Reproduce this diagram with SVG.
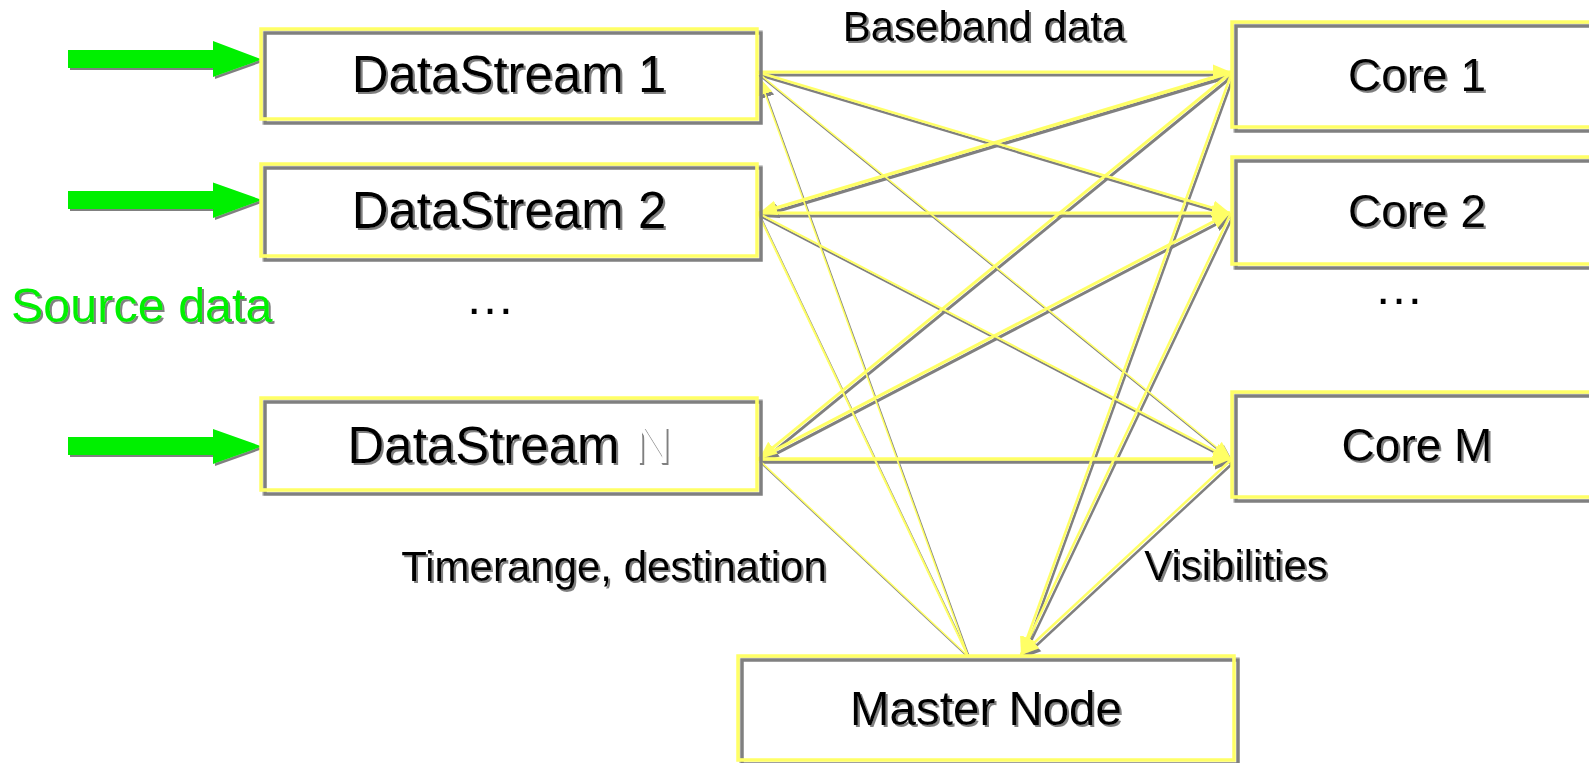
<svg xmlns="http://www.w3.org/2000/svg" width="1589" height="763" viewBox="0 0 1589 763">
<defs>
<style>
.txt{font-family:"Liberation Sans",Arial,Helvetica,sans-serif;fill:#000;}
.box{fill:none;stroke:#ffff66;stroke-width:3.5;}
.bg{fill:#fff;stroke:none;}
.c{fill:none;stroke:#ffff66;}
.w15{stroke-width:1.5;}
.w2{stroke-width:2;}
.w25{stroke-width:2.5;}
.w3{stroke-width:3;}
.w35{stroke-width:3.5;}
.green{fill:#00f000;}
</style>
<filter id="shText" x="-10%" y="-20%" width="130%" height="150%">
<feFlood flood-color="#808080"/>
<feComposite in2="SourceAlpha" operator="in"/>
<feOffset dx="2" dy="2" result="s"/>
<feMerge><feMergeNode in="s"/><feMergeNode in="SourceGraphic"/></feMerge>
</filter>
<filter id="shBox" x="-5%" y="-10%" width="115%" height="130%">
<feFlood flood-color="#808080"/>
<feComposite in2="SourceAlpha" operator="in"/>
<feOffset dx="3.5" dy="3.5" result="s"/>
<feMerge><feMergeNode in="s"/><feMergeNode in="SourceGraphic"/></feMerge>
</filter>
<filter id="shLine" x="-10%" y="-10%" width="120%" height="120%">
<feFlood flood-color="#808080"/>
<feComposite in2="SourceAlpha" operator="in"/>
<feOffset dx="2" dy="2.5" result="s"/>
<feMerge><feMergeNode in="s"/><feMergeNode in="SourceGraphic"/></feMerge>
</filter>
<marker id="ah" markerUnits="userSpaceOnUse" markerWidth="19" markerHeight="17" refX="18" refY="8.5" orient="auto">
<path d="M0,1 L18,8.5 L0,16 Z" fill="#ffff66"/>
</marker>
</defs>
<rect width="1589" height="763" fill="#fff"/>

<g id="source-arrows" filter="url(#shText)">
<path class="green" d="M68,50 L213,50 L213,41 L262,59.5 L213,77 L213,68 L68,68 Z"/>
<path class="green" d="M68,191 L213,191 L213,182.5 L262,200 L213,218 L213,209 L68,209 Z"/>
<path class="green" d="M68,437 L213,437 L213,429 L262,446.5 L213,464 L213,455 L68,455 Z"/>
</g>
<g id="source-label">
<text class="txt" x="11" y="322" font-size="48.5" style="fill:#00f000" filter="url(#shText)">Source data</text>
</g>

<g id="connectors" filter="url(#shLine)">
<path class="c w3" d="M757,72 L1231,72" marker-end="url(#ah)"/>
<path class="c w25" d="M757,72 L1230,213" marker-end="url(#ah)"/>
<path class="c w15" d="M757,72 L1231,459" marker-end="url(#ah)"/>
<path class="c w15" d="M968,656 L759,77" marker-end="url(#ah)"/>
<path class="c w35" d="M1232,72 L759,213" marker-end="url(#ah)"/>
<path class="c w3" d="M758,213 L1230,213" marker-end="url(#ah)"/>
<path class="c w2" d="M758,213 L1231,459" marker-end="url(#ah)"/>
<path class="c w2" d="M968,656 L758,213"/>
<path class="c w3" d="M1232,72 L759,459" marker-end="url(#ah)"/>
<path class="c w3" d="M758,459 L1230,213" marker-end="url(#ah)"/>
<path class="c w35" d="M758,459 L1231,459" marker-end="url(#ah)"/>
<path class="c w15" d="M968,656 L758,459"/>
<path class="c w25" d="M1232,72 L1021,655" marker-end="url(#ah)"/>
<path class="c w25" d="M1231,213 L1021,655" marker-end="url(#ah)"/>
<path class="c w25" d="M1232,459 L1021,655" marker-end="url(#ah)"/>
</g>

<g id="ds1">
<rect class="bg" x="261" y="29" width="496" height="90"/>
<rect class="box" x="261" y="29" width="496" height="90" filter="url(#shBox)"/>
<text class="txt" x="509" y="92" font-size="51" text-anchor="middle" filter="url(#shText)">DataStream 1</text>
</g>
<g id="ds2">
<rect class="bg" x="261" y="164" width="496" height="92"/>
<rect class="box" x="261" y="164" width="496" height="92" filter="url(#shBox)"/>
<text class="txt" x="509" y="228" font-size="51" text-anchor="middle" filter="url(#shText)">DataStream 2</text>
</g>
<g id="ds-dots">
<text class="txt" x="490" y="314" font-size="50" text-anchor="middle">…</text>
</g>
<g id="dsN">
<rect class="bg" x="261" y="398" width="496" height="92"/>
<rect class="box" x="261" y="398" width="496" height="92" filter="url(#shBox)"/>
<text class="txt" x="509" y="463" font-size="51" text-anchor="middle" filter="url(#shText)">DataStream <tspan style="fill:#fff">N</tspan></text>
</g>

<g id="core1">
<rect class="bg" x="1232" y="22" width="380" height="105"/>
<rect class="box" x="1232" y="22" width="380" height="105" filter="url(#shBox)"/>
<text class="txt" x="1417" y="91" font-size="46" text-anchor="middle" filter="url(#shText)">Core 1</text>
</g>
<g id="core2">
<rect class="bg" x="1232" y="157" width="380" height="107"/>
<rect class="box" x="1232" y="157" width="380" height="107" filter="url(#shBox)"/>
<text class="txt" x="1417" y="227" font-size="46" text-anchor="middle" filter="url(#shText)">Core 2</text>
</g>
<g id="core-dots">
<text class="txt" x="1399" y="304" font-size="50" text-anchor="middle">…</text>
</g>
<g id="coreM">
<rect class="bg" x="1232" y="392" width="380" height="105"/>
<rect class="box" x="1232" y="392" width="380" height="105" filter="url(#shBox)"/>
<text class="txt" x="1417" y="461" font-size="46" text-anchor="middle" filter="url(#shText)">Core M</text>
</g>

<g id="master">
<rect class="bg" x="738" y="656" width="496" height="104"/>
<rect class="box" x="738" y="656" width="496" height="104" filter="url(#shBox)"/>
<text class="txt" x="986" y="725" font-size="47.5" text-anchor="middle" filter="url(#shText)">Master Node</text>
</g>

<g id="labels" filter="url(#shText)">
<text class="txt" x="984" y="41" font-size="42" text-anchor="middle">Baseband data</text>
<text class="txt" x="614" y="581" font-size="42" text-anchor="middle">Timerange, destination</text>
<text class="txt" x="1236" y="580" font-size="42" text-anchor="middle">Visibilities</text>
</g>
</svg>
